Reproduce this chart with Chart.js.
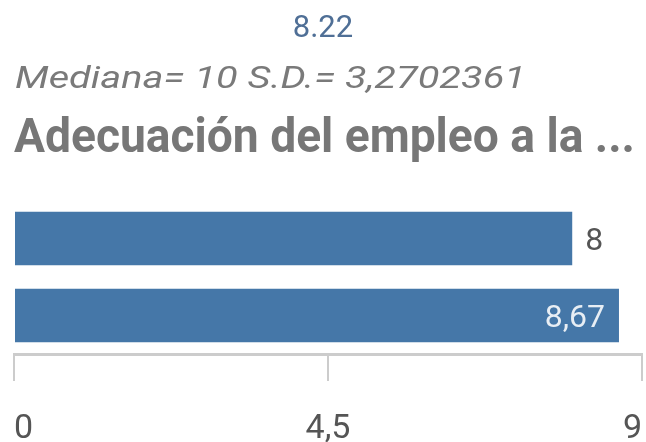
<!DOCTYPE html>
<html>
<head>
<meta charset="utf-8">
<script src="https://cdn.jsdelivr.net/npm/chart.js@4/dist/chart.umd.min.js"></script>
<style>
  html, body { margin: 0; padding: 0; background: #fff; }
  #wrap { position: relative; width: 646px; height: 442px; overflow: hidden; }
  #c { position: absolute; left: 0; top: 0; }
  .t { position: absolute; white-space: nowrap; font-family: Roboto, "Noto Sans", sans-serif; line-height: 1; }
  #kpi { left: 0; width: 646px; text-align: center; top: 11px; font-size: 31px; color: #4f6f96; }
  #sub { left: 15px; top: 62px; font-size: 31px; font-style: italic; color: #7a7a7a; transform-origin: left top; }
  #ttl { left: 14px; top: 112px; font-size: 48px; font-weight: bold; color: #777; transform-origin: left top; }
</style>
</head>
<body>
<div id="wrap">
  <canvas id="c" width="646" height="442"></canvas>
  <div class="t" id="kpi">8.22</div>
  <div class="t" id="sub">Mediana= 10 S.D.= 3,2702361</div>
  <div class="t" id="ttl">Adecuación del empleo a la ...</div>
</div>
<script>
const categories = ["Grupo A", "Grupo B"];
const values = [8, 8.67];
const tickValues = [0, 4.5, 9];

function fmt(v) { return String(v).replace('.', ','); }

// fit the titles to their reference widths
function fit(id, w) {
  const el = document.getElementById(id);
  const r = el.getBoundingClientRect().width;
  el.style.transform = 'scaleX(' + (w / r) + ')';
}
fit('sub', 511);
fit('ttl', 621);

const labelPlugin = {
  id: 'valueLabels',
  afterDatasetsDraw(chart) {
    const ctx = chart.ctx;
    const meta = chart.getDatasetMeta(0);
    ctx.save();
    ctx.font = '32px Roboto, "Noto Sans", sans-serif';
    ctx.textBaseline = 'alphabetic';
    meta.data.forEach((bar, i) => {
      const txt = fmt(values[i]);
      if (i === 0) {
        ctx.fillStyle = '#555';
        ctx.textAlign = 'left';
        ctx.fillText(txt, bar.x + 13, bar.y + 11.5);
      } else {
        ctx.fillStyle = '#e8eef4';
        ctx.textAlign = 'right';
        ctx.fillText(txt, bar.x - 14, bar.y + 11.5);
      }
    });
    ctx.restore();
  }
};

new Chart(document.getElementById('c'), {
  type: 'bar',
  data: {
    labels: categories,
    datasets: [{
      data: values,
      backgroundColor: '#4577a8',
      borderWidth: 0,
      barPercentage: 0.694,
      categoryPercentage: 1
    }]
  },
  options: {
    indexAxis: 'y',
    responsive: false,
    animation: false,
    layout: { padding: { top: 200, left: 14, right: 4, bottom: 0 } },
    plugins: { legend: { display: false }, tooltip: { enabled: false }, title: { display: false } },
    scales: {
      y: { display: false },
      x: {
        min: 0, max: 9,
        afterBuildTicks(axis) { axis.ticks = tickValues.map(v => ({ value: v })); },
        afterFit(axis) { axis.paddingLeft = 0; axis.paddingRight = 0; axis.height = 88; },
        grid: { drawOnChartArea: false, drawTicks: true, tickLength: 27, color: '#cccccc', lineWidth: 2 },
        border: { display: true, color: '#cccccc', width: 3 },
        ticks: {
          align: 'inner',
          padding: 37.5,
          maxRotation: 0,
          color: '#555',
          font: { size: 34, family: 'Roboto, "Noto Sans", sans-serif', lineHeight: 0.62 },
          callback: (v) => fmt(v)
        }
      }
    }
  },
  plugins: [labelPlugin]
});
</script>
</body>
</html>
